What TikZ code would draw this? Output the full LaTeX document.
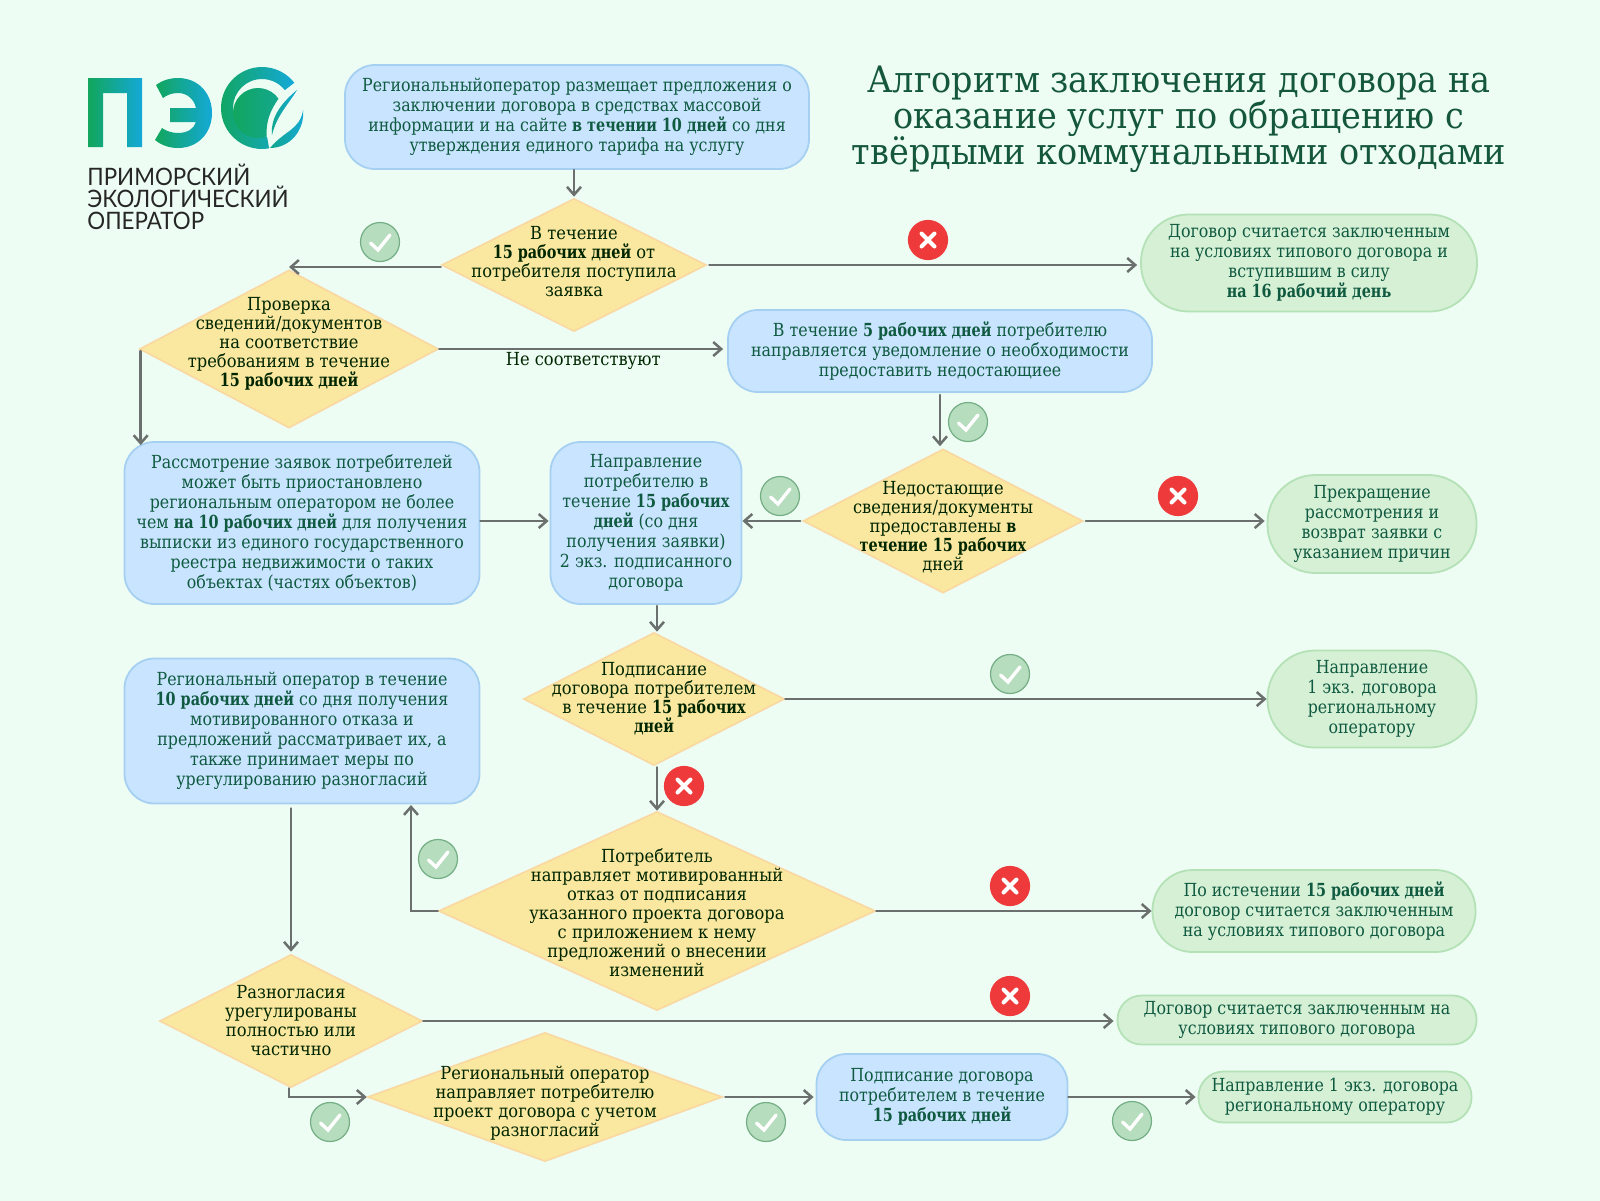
\documentclass[tikz,border=0pt]{standalone}
\usepackage{fontspec}
\usepackage{xcolor}
\usetikzlibrary{arrows.meta,shapes.geometric}
\newfontfamily\bodyfont[FakeStretch=0.88,BoldFeatures={FakeStretch=0.8}]{DejaVu Serif}
\newfontfamily\decfont[FakeStretch=0.905,BoldFeatures={FakeStretch=0.8}]{DejaVu Serif}
\newfontfamily\titlefont[FakeStretch=0.92]{DejaVu Serif}
\newfontfamily\logofont[FakeStretch=0.93]{Lato}
\definecolor{pagebg}{HTML}{EDFDF3}
\definecolor{bluefill}{HTML}{C9E4FF}
\definecolor{blueedge}{HTML}{A6D0F2}
\definecolor{greenfill}{HTML}{D6F0D6}
\definecolor{greenedge}{HTML}{B4E2B6}
\definecolor{decfill}{HTML}{FAE7A0}
\definecolor{decedge}{HTML}{FAD8A2}
\definecolor{inkgreen}{HTML}{0F5A40}
\definecolor{titlegreen}{HTML}{14573A}
\definecolor{arrowgray}{HTML}{6B706E}
\definecolor{okfill}{HTML}{B6DDBE}
\definecolor{okedge}{HTML}{73AE84}
\definecolor{nofill}{HTML}{EE3A3A}
\definecolor{logogreen}{HTML}{12A65C}
\definecolor{logoblue}{HTML}{14A8D8}
\begin{document}
\begin{tikzpicture}[x=0.5pt,y=-0.5pt,>={Straight Barb[length=4pt,width=7pt]},line cap=round,
  flowline/.style={->,draw=arrowgray,line width=1.25pt},
  bluebox/.style 2 args={draw=blueedge,fill=bluefill,line width=0.9pt,rounded corners=15pt,align=center,inner sep=0pt,text=inkgreen,font=\bodyfont\fontsize{9}{10}\selectfont,minimum width=#1*0.5pt,minimum height=#2*0.5pt},
  greenbox/.style 2 args={draw=greenedge,fill=greenfill,line width=0.9pt,rounded corners=#2*0.245pt,align=center,inner sep=0pt,text=inkgreen,font=\bodyfont\fontsize{9}{10}\selectfont,minimum width=#1*0.5pt,minimum height=#2*0.5pt},
  decision/.style 2 args={diamond,draw=decedge,fill=decfill,line width=0.8pt,inner sep=0pt,minimum width=#1*0.5pt,minimum height=#2*0.5pt},
  dectext/.style={align=center,inner sep=0pt,text=black!85!green,font=\decfont\fontsize{9}{9.5}\selectfont},
  okmark/.style={circle,draw=okedge,fill=okfill,line width=0.6pt,minimum size=19.5pt,inner sep=0pt,path picture={\draw[white,line width=1.7pt,shift={(path picture bounding box.center)}] (-9.5,1) -- (-2,8) -- (10,-7);}},
  nomark/.style={circle,draw=nofill,fill=nofill,line width=0.6pt,minimum size=19.5pt,inner sep=0pt,path picture={\draw[white,line width=2pt,shift={(path picture bounding box.center)}] (-6.5,-6.5) -- (6.5,6.5) (-6.5,6.5) -- (6.5,-6.5);}}]
\useasboundingbox (0,0) rectangle (1600,1200);
\fill[pagebg] (-6,-6) rectangle (1606,1206);
\shade[left color=logogreen,right color=logoblue] (88,78) -- (142,78) -- (142,147) -- (127,147) -- (127,93) -- (103,93) -- (103,147) -- (88,147) -- cycle;
\shade[left color=logogreen,right color=logoblue] (156,85) .. controls (163,80) and (170,78) .. (178,78) .. controls (198,78) and (212,93) .. (212,113) .. controls (212,133) and (198,148) .. (178,148) .. controls (169,148) and (161,145) .. (155,140) -- (162,128) .. controls (166,131) and (172,133) .. (178,133) .. controls (187,133) and (194,129) .. (196,122) -- (170,122) -- (170,108) -- (196,108) .. controls (194,99) and (187,93) .. (178,93) .. controls (172,93) and (167,95) .. (163,98) -- cycle;
\begin{scope}[shift={(262,108)}]
\shade[left color=logogreen,right color=logoblue] (-38:41) arc[start angle=-38,end angle=-280,radius=41] -- (-280:29) arc[start angle=-280,end angle=-38,radius=29] -- cycle;
\end{scope}
\begin{scope}[shift={(258,113)}]
\shade[left color=logogreen,right color=logogreen!60!logoblue] (-35:25) arc[start angle=-35,end angle=-290,radius=25] .. controls (8,8) and (12,-2) .. cycle;
\end{scope}
\shade[left color=logogreen!60!logoblue,right color=logoblue] (270,148) .. controls (285,130) and (300,130) .. (303,110) .. controls (305,130) and (290,148) .. cycle;
\shade[left color=logogreen!60!logoblue,right color=logoblue] (272,135) .. controls (270,115) and (285,100) .. (297,90) .. controls (288,105) and (277,115) .. cycle;
\node[anchor=west,align=left,inner sep=0pt,text=black!85,font=\logofont\fontsize{12}{11}\selectfont] (logoname) at (87,197) {ПРИМОРСКИЙ\\ЭКОЛОГИЧЕСКИЙ\\ОПЕРАТОР};
\node[align=center,inner sep=0pt,text=titlegreen,font=\titlefont\fontsize{18.2}{18}\selectfont] (title) at (1179,119) {Алгоритм заключения договора на\\оказание услуг по обращению с\\твёрдыми коммунальными отходами};
\node[bluebox={464}{104}] (b1) at (577,117) {Региональныйоператор размещает предложения о\\заключении договора в средствах массовой\\информации и на сайте \textbf{в течении 10 дней} со дня\\утверждения единого тарифа на услугу};
\node[decision={265}{133}] (d1) at (574,265) {};
\node[dectext,yshift=1.5pt] (d1text) at (d1) {В течение\\\textbf{15 рабочих дней} от\\потребителя поступила\\заявка};
\node[greenbox={336}{97}] (g1) at (1309,263) {Договор считается заключенным\\на условиях типового договора и\\вступившим в силу\\\textbf{на 16 рабочий день}};
\node[decision={299}{158}] (d2) at (289,349) {};
\node[dectext,yshift=2.5pt] (d2text) at (d2) {Проверка\\сведений/документов\\на соответствие\\требованиям в течение\\\textbf{15 рабочих дней}};
\node[bluebox={424}{82}] (b2) at (940,351) {В течение \textbf{5 рабочих дней} потребителю\\направляется уведомление о необходимости\\предоставить недостающиее};
\node[bluebox={355}{162}] (b3) at (302,523) {Рассмотрение заявок потребителей\\может быть приостановлено\\региональным оператором не более\\чем \textbf{на 10 рабочих дней} для получения\\выписки из единого государственного\\реестра недвижимости о таких\\объектах (частях объектов)};
\node[bluebox={191}{162}] (b4) at (646,523) {Направление\\потребителю в\\течение \textbf{15 рабочих}\\\textbf{дней} (со дня\\получения заявки)\\2 экз. подписанного\\договора};
\node[decision={280}{144}] (d3) at (943,521) {};
\node[dectext,yshift=-3pt] (d3text) at (d3) {Недостающие\\сведения/документы\\предоставлены \textbf{в}\\\textbf{течение 15 рабочих}\\дней};
\node[greenbox={209}{98}] (g2) at (1372,524) {Прекращение\\рассмотрения и\\возврат заявки с\\указанием причин};
\node[decision={261}{133}] (d4) at (654,699) {};
\node[dectext] (d4text) at (d4) {Подписание\\договора потребителем\\в течение \textbf{15 рабочих}\\\textbf{дней}};
\node[greenbox={209}{97}] (g3) at (1372,699) {Направление\\1 экз. договора\\региональному\\оператору};
\node[bluebox={355}{145}] (b5) at (302,731) {Региональный оператор в течение\\\textbf{10 рабочих дней} со дня получения\\мотивированного отказа и\\предложений рассматривает их, а\\также принимает меры по\\урегулированию разногласий};
\node[decision={437}{199}] (d5) at (657,911) {};
\node[dectext,yshift=-1pt] (d5text) at (d5) {Потребитель\\направляет мотивированный\\отказ от подписания\\указанного проекта договора\\с приложением к нему\\предложений о внесении\\изменений};
\node[greenbox={323}{82}] (g4) at (1314,911) {По истечении \textbf{15 рабочих дней}\\договор считается заключенным\\на условиях типового договора};
\node[decision={263}{133}] (d6) at (291,1021) {};
\node[dectext] (d6text) at (d6) {Разногласия\\урегулированы\\полностью или\\частично};
\node[greenbox={359}{49}] (g5) at (1297,1020) {Договор считается заключенным на\\условиях типового договора};
\node[decision={355}{129}] (d7) at (545,1097) {};
\node[dectext,yshift=-3pt] (d7text) at (d7) {Региональный оператор\\направляет потребителю\\проект договора с учетом\\разногласий};
\node[bluebox={251}{86}] (b6) at (942,1097) {Подписание договора\\потребителем в течение\\\textbf{15 рабочих дней}};
\node[greenbox={273}{51}] (g6) at (1335,1097) {Направление 1 экз. договора\\региональному оператору};
\coordinate (b5in) at (411,805);
\draw[flowline,shorten >=0.5pt] (b1.south -| d1.north) -- (d1.north);
\draw[flowline] ([yshift=-1pt]d1.west) -- ([yshift=-1pt]d1.west -| d2.north);
\draw[flowline,shorten <=1pt,shorten >=1.5pt] (d1.east) -- (d1.east -| g1.west);
\draw[flowline,shorten >=2pt] (d2.east) -- node[midway,below=0pt,inner sep=1pt,text=black!85!green,font=\decfont\fontsize{9}{10}\selectfont] (mismatch) {Не соответствуют} (d2.east -| b2.west);
\draw[flowline,shorten >=-2pt] ([xshift=1pt,yshift=-1pt]d2.west) -- ([xshift=1pt]d2.west |- b3.north);
\draw[flowline,shorten <=1pt,shorten >=1pt] (b2.south) -- (b2.south |- d3.north);
\draw[flowline,shorten <=1pt] (d3.west) -- (d3.west -| b4.east);
\draw[flowline,shorten <=1pt,shorten >=1pt] (d3.east) -- (d3.east -| g2.west);
\draw[flowline,shorten >=0.5pt] ([yshift=1pt]b3.east) -- ([yshift=1pt]b3.east -| b4.west);
\draw[flowline,shorten <=0.5pt] ([xshift=1.5pt]b4.south -| d4.north) -- ([xshift=1.5pt]d4.north);
\draw[flowline] (d4.east) -- (g3.west);
\draw[flowline,shorten <=0.5pt] (d4.south -| d5.north) -- (d5.north);
\draw[flowline] (d5.west) -| (b5in);
\draw[flowline,shorten <=2pt,shorten >=1pt] (b5.south -| d6.north) -- (d6.north);
\draw[flowline] (d5.east) -- (g4.west);
\draw[flowline,shorten >=1.5pt] (d6.east) -- (d6.east -| g5.west);
\draw[flowline] ([xshift=-1pt]d6.south) |- (d7.west);
\draw[flowline,shorten <=1pt,shorten >=1pt] (d7.east) -- (d7.east -| b6.west);
\draw[flowline,shorten >=1pt] (b6.east) -- (g6.west);
\node[okmark] (ok1) at (380,242) {};
\node[nomark] (no1) at (928,240) {};
\node[okmark] (ok2) at (968,422) {};
\node[okmark] (ok3) at (780,496) {};
\node[nomark] (no2) at (1178,496) {};
\node[okmark] (ok4) at (1010,674) {};
\node[nomark] (no3) at (684,786) {};
\node[okmark] (ok5) at (438,859) {};
\node[nomark] (no4) at (1010,886) {};
\node[nomark] (no5) at (1010,996) {};
\node[okmark] (ok6) at (330,1122) {};
\node[okmark] (ok7) at (766,1122) {};
\node[okmark] (ok8) at (1132,1121) {};
\end{tikzpicture}
\end{document}
